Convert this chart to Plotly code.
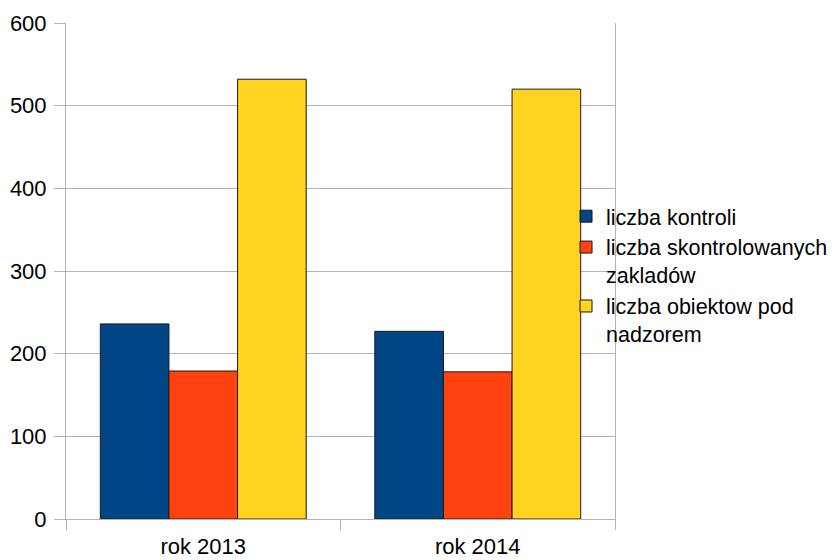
import plotly.graph_objects as go

categories = ["rok 2013", "rok 2014"]
series_names = ["liczba kontroli", "liczba skontrolowanych<br>zakladów", "liczba obiektow pod<br>nadzorem"]
kontrole = [236, 227]
zaklady = [179, 178]
obiekty = [532, 520]
colors = ["#004586", "#ff420e", "#ffd320"]
y_ticks = [0, 100, 200, 300, 400, 500, 600]

FONT = "Liberation Sans, Arial, sans-serif"
GRID = "#b3b3b3"
FS = 22

fig = go.Figure()
for name, vals, col in zip(series_names, [kontrole, zaklady, obiekty], colors):
    fig.add_trace(go.Bar(
        x=categories, y=vals, name=name,
        marker=dict(color=col, line=dict(color="#1a1a1a", width=1)),
    ))

# page body has an 8px default margin, so the figure is sized/placed to compensate
fig.update_layout(
    width=831, height=552,
    margin=dict(l=58, r=224, t=15, b=41, autoexpand=False),
    paper_bgcolor="white", plot_bgcolor="white",
    barmode="group", bargap=0.25, bargroupgap=0,
    font=dict(family=FONT, size=FS, color="#000000"),
    showlegend=True,
    legend=dict(
        xref="container", yref="container",
        x=0.6715, xanchor="left", y=0.516, yanchor="middle",
        bgcolor="rgba(0,0,0,0)", borderwidth=0,
        font=dict(family=FONT, size=21.5, color="#000000"),
        valign="top", traceorder="normal",
    ),
)
fig.update_xaxes(
    type="category", showgrid=False, showline=True, linecolor=GRID, linewidth=1,
    ticks="outside", ticklen=10, tickcolor=GRID, tickson="boundaries", automargin=False,
    tickfont=dict(family=FONT, size=FS, color="#000000"), ticklabelstandoff=8,
)
fig.update_yaxes(
    range=[0, 600], tickvals=y_ticks, showgrid=True, gridcolor=GRID, gridwidth=1,
    zeroline=False, showline=True, linecolor=GRID, linewidth=1, mirror=True, automargin=False,
    ticks="outside", ticklen=11, tickcolor=GRID,
    tickfont=dict(family=FONT, size=FS, color="#000000"), ticklabelstandoff=3,
)

fig.write_html("out.html")
